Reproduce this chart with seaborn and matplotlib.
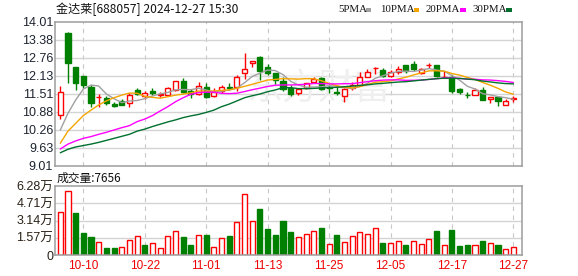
import numpy as np
import pandas as pd
import matplotlib
matplotlib.use("Agg")
import matplotlib.pyplot as plt
from matplotlib.patches import Rectangle
import seaborn as sns

# ---------------- data ----------------
dates = ["09-30",
         "10-08", "10-09", "10-10", "10-11", "10-14", "10-15", "10-16", "10-17", "10-18",
         "10-21", "10-22", "10-23", "10-24", "10-25", "10-28", "10-29", "10-30", "10-31",
         "11-01", "11-04", "11-05", "11-06", "11-07", "11-08", "11-11", "11-12", "11-13",
         "11-14", "11-15", "11-18", "11-19", "11-20", "11-21", "11-22", "11-25", "11-26",
         "11-27", "11-28", "11-29", "12-02", "12-03", "12-04", "12-05", "12-06", "12-09",
         "12-10", "12-11", "12-12", "12-13", "12-16", "12-17", "12-18", "12-19", "12-20",
         "12-23", "12-24", "12-25", "12-26", "12-27"]

opens = [10.77, 13.63, 12.43, 12.12, 11.75, 11.38, 11.35, 11.16, 11.26, 11.18,
         11.64, 11.43, 11.60, 11.48, 11.45, 11.64, 11.95, 11.61, 11.50, 11.75,
         11.43, 11.61, 11.74, 11.75, 12.22, 12.57, 12.80, 12.45, 12.22, 11.96,
         11.70, 11.54, 11.70, 11.90, 12.06, 11.73, 11.57, 11.43, 11.70, 11.81,
         12.10, 12.39, 12.33, 12.14, 12.25, 12.51, 12.54, 12.22, 12.49, 12.51,
         12.08, 12.08, 11.67, 11.47, 11.45, 11.64, 11.32, 11.41, 11.11, 11.33]
highs = [11.78, 13.66, 12.45, 12.13, 11.81, 11.50, 11.43, 11.23, 11.31, 11.54,
         11.71, 11.61, 11.70, 11.58, 11.75, 11.95, 12.07, 11.67, 11.93, 11.89,
         11.70, 11.80, 11.89, 12.16, 12.93, 12.66, 12.82, 12.54, 12.24, 12.08,
         11.81, 11.66, 11.89, 12.10, 12.10, 11.81, 11.76, 11.70, 11.93, 12.27,
         12.36, 12.45, 12.39, 12.33, 12.47, 12.52, 12.65, 12.41, 12.57, 12.52,
         12.31, 12.16, 11.72, 11.56, 11.70, 11.75, 11.41, 11.42, 11.31, 11.43]
lows = [10.63, 11.87, 11.64, 11.70, 11.04, 11.04, 11.12, 11.06, 11.11, 11.04,
        11.46, 11.34, 11.46, 11.40, 11.43, 11.60, 11.52, 11.35, 11.46, 11.35,
        11.38, 11.55, 11.64, 11.61, 12.01, 12.43, 11.99, 12.16, 11.85, 11.61,
        11.43, 11.46, 11.66, 11.87, 11.64, 11.52, 11.48, 11.23, 11.64, 11.78,
        12.10, 12.18, 12.10, 12.08, 12.19, 12.22, 12.31, 12.18, 12.39, 12.10,
        12.04, 11.54, 11.50, 11.37, 11.45, 11.29, 11.18, 11.08, 11.11, 11.23]
closes = [11.58, 12.59, 11.89, 11.81, 11.18, 11.41, 11.20, 11.08, 11.13, 11.46,
          11.50, 11.52, 11.54, 11.51, 11.70, 11.95, 11.58, 11.50, 11.77, 11.39,
          11.58, 11.75, 11.70, 12.08, 12.36, 12.66, 12.31, 12.24, 11.99, 11.66,
          11.50, 11.66, 11.87, 12.03, 11.68, 11.71, 11.55, 11.66, 11.81, 12.08,
          12.25, 12.41, 12.12, 12.25, 12.37, 12.31, 12.36, 12.36, 12.51, 12.12,
          12.10, 11.61, 11.56, 11.45, 11.64, 11.29, 11.40, 11.26, 11.27, 11.35]

volumes = [38900, 58200, 38500, 20300, 16400, 11800, 6700, 6700, 7300, 13700,
           17000, 9100, 10900, 6400, 17300, 21800, 16400, 9100, 18200, 18200,
           7300, 15500, 17300, 30000, 55500, 30900, 41900, 23700, 18200, 30900,
           20900, 16100, 18800, 21500, 24600, 10000, 18200, 11800, 17000, 20900,
           19100, 24300, 10900, 10900, 12700, 9100, 12700, 10000, 14300, 21800,
           9100, 22800, 8200, 9100, 9100, 12700, 10900, 9100, 5500, 7656]
vol_up = [1, 1, 0, 0, 0, 1, 0, 0, 1, 1,
          1, 0, 1, 1, 1, 1, 0, 0, 1, 0,
          1, 1, 0, 1, 1, 1, 0, 0, 0, 0,
          0, 1, 1, 1, 0, 1, 0, 1, 1, 1,
          1, 1, 0, 1, 1, 0, 1, 1, 1, 0,
          1, 0, 0, 0, 1, 0, 1, 0, 1, 1]

# moving-average values before enough closes are on the chart
ma5_head = [10.25, 10.83, 11.29, 11.67]
ma10_head = [9.79, 10.21, 10.48, 10.75, 10.94, 11.12, 11.26, 11.37, 11.46]
ma20_head = [9.59, 9.76, 9.87, 9.96, 10.02, 10.10, 10.17, 10.25, 10.33, 10.40,
             10.54, 10.63, 10.75, 10.91, 11.06, 11.23, 11.37, 11.49, 11.55]
ma30_head = [9.46, 9.58, 9.66, 9.71, 9.76, 9.82, 9.89, 9.96, 10.03, 10.10,
             10.21, 10.28, 10.37, 10.45, 10.53, 10.60, 10.68, 10.74, 10.79, 10.86,
             10.94, 11.06, 11.15, 11.26, 11.37, 11.44, 11.50, 11.58, 11.64]

price_tick_labels = ["9.01", "9.63", "10.26", "10.88", "11.51", "12.13", "12.76", "13.38", "14.01"]
vol_tick_labels = ["0", "1.57万", "3.14万", "4.71万", "6.28万"]
ma_names = ["5PMA", "10PMA", "20PMA", "30PMA"]
title_text = "金达莱[688057] 2024-12-27 15:30"
vol_title = "成交量:7656"
watermark = "东方财富"

# ---------------- style ----------------
sns.set_style("white")
plt.rcParams["font.family"] = ["Liberation Sans", "Noto Sans CJK SC", "DejaVu Sans"]

RED = "#ff0000"
GREEN = "#008000"
MA_COLORS = ["#a0a0a0", "#f5a500", "#ff00ff", "#00702e"]
GRID = "#d4d4d4"
FRAME = "#9c9c9c"

W, H = 578, 276
fig = plt.figure(figsize=(W / 100, H / 100), dpi=100)
fig.patch.set_facecolor("white")

L, R = 55.3, 522.3
ax = fig.add_axes([L / W, 1 - 165.7 / H, (R - L) / W, 144 / H])
axv = fig.add_axes([L / W, 1 - 255 / H, (R - L) / W, 69 / H])

df = pd.DataFrame({"date": dates, "open": opens, "high": highs, "low": lows,
                   "close": closes, "volume": volumes, "vol_up": vol_up})
df["i"] = np.arange(len(df))

def moving_average(n, head):
    m = df["close"].rolling(n).mean().to_numpy()
    m[:len(head)] = head
    return m

df["ma5"] = moving_average(5, ma5_head)
df["ma10"] = moving_average(10, ma10_head)
df["ma20"] = moving_average(20, ma20_head)
df["ma30"] = moving_average(30, ma30_head)

xlim = (-0.65, 60.16)
ymin, ymax = 9.01, 14.01
vmax = 62800
label_idx = list(range(3, len(df), 8))

for a in (ax, axv):
    a.set_xlim(*xlim)
    for s in a.spines.values():
        s.set_color(FRAME)
        s.set_linewidth(1.1)
    for k in label_idx:
        a.axvline(k, color="#c8c8c8", lw=0.8, ls=(0, (4, 4)), zorder=0)

# ---------------- price panel ----------------
ax.set_ylim(ymin, ymax)
pticks = np.linspace(ymin, ymax, len(price_tick_labels))
ax.set_yticks(pticks)
ax.set_yticklabels(price_tick_labels)
for t in pticks[1:-1]:
    ax.axhline(t, color=GRID, lw=1.0, zorder=0)
ax.set_xticks([])
ax.tick_params(axis="y", length=0, pad=1.5, labelsize=9, labelcolor="#1d2430")

ax.text(0.565, 0.525, watermark, transform=ax.transAxes, fontsize=26,
        family=["Noto Sans CJK SC"], color="#efefef", ha="center", va="center",
        zorder=0)

up = df["close"] >= df["open"]
for is_up, color, face in ((True, RED, "white"), (False, GREEN, GREEN)):
    d = df[up == is_up]
    body_lo = np.minimum(d["open"], d["close"])
    body_h = np.maximum(np.abs(d["close"] - d["open"]), 0.012)
    ax.vlines(d["i"], d["low"], d["high"], color=color, lw=1.0, zorder=2)
    ax.bar(d["i"], body_h, bottom=body_lo, width=0.66, facecolor=face,
           edgecolor=color, linewidth=1.0, zorder=2.5)

for col, c in zip(["ma5", "ma10", "ma20", "ma30"], MA_COLORS):
    sns.lineplot(data=df, x="i", y=col, ax=ax, color=c, lw=1.0, zorder=3,
                 estimator=None)
ax.set_xlabel("")
ax.set_ylabel("")
ax.set_xlim(*xlim)

# ---------------- volume panel ----------------
axv.set_ylim(0, vmax)
vticks = np.linspace(0, vmax, len(vol_tick_labels))
axv.set_yticks(vticks)
axv.set_yticklabels(vol_tick_labels)
for t in vticks[1:-1]:
    axv.axhline(t, color=GRID, lw=1.0, zorder=0)
axv.tick_params(axis="y", length=0, pad=1.5, labelsize=9, labelcolor="#2a2116")
dv_up = df[df["vol_up"] == 1]
dv_dn = df[df["vol_up"] == 0]
axv.bar(dv_up["i"], dv_up["volume"], width=0.66, facecolor="white",
        edgecolor=RED, linewidth=1.0, zorder=2)
axv.bar(dv_dn["i"], dv_dn["volume"], width=0.66, facecolor=GREEN,
        edgecolor=GREEN, linewidth=1.0, zorder=2)
axv.set_xticks(label_idx)
axv.set_xticklabels([dates[k] for k in label_idx])
axv.tick_params(axis="x", length=0, pad=3.5, labelsize=8.5, labelcolor="#ee0000")
axv.set_xlim(*xlim)

# ---------------- header texts ----------------
fig.text(55.5 / W, 1 - 9.5 / H, title_text, fontsize=8.7, ha="left", va="center",
         family=["Noto Sans CJK SC"], color="#111111")
fig.text(57 / W, 1 - 178 / H, vol_title, fontsize=8.5, ha="left", va="center",
         family=["Noto Sans CJK SC"], color="#111111")

legend_text_x = [338.5, 380, 425.5, 472]
legend_box_x = [365.5, 413.5, 460, 506]
for name, tx, bx, c in zip(ma_names, legend_text_x, legend_box_x, MA_COLORS):
    fig.text(tx / W, 1 - 9.5 / H, name, fontsize=7.8, ha="left", va="center",
             family=["Liberation Serif"], color="#111111")
    fig.patches.append(Rectangle((bx / W, 1 - 11.5 / H), 5.5 / W, 3.5 / H,
                                 transform=fig.transFigure, facecolor=c,
                                 edgecolor="none"))

fig.savefig("out.png", dpi=100)
